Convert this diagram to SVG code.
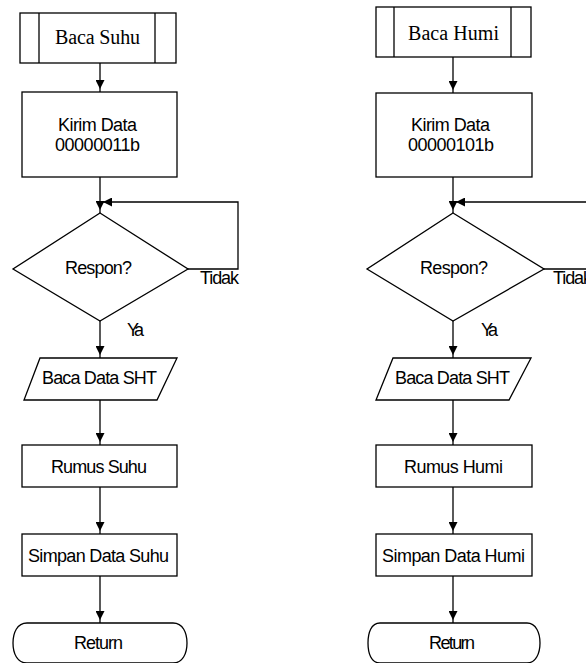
<svg xmlns="http://www.w3.org/2000/svg" width="586" height="663" viewBox="0 0 586 663">
<style>
.s{fill:#fff;stroke:#000;stroke-width:1.3}
.c{fill:none;stroke:#000;stroke-width:1.3}
.t{font-family:"Liberation Sans",Arial,sans-serif;font-size:18px;fill:#000}
.m{text-anchor:middle}
.r{font-family:"Liberation Serif","Times New Roman",serif;font-size:20px;fill:#000;text-anchor:middle}
</style>
<defs>
<marker id="ah" viewBox="0 0 12 9" markerWidth="12" markerHeight="9" refX="12" refY="4.5" orient="auto" markerUnits="userSpaceOnUse">
<path d="M0,0 L9,4.5 L0,9 Z" fill="#000"/>
</marker>
</defs>
<rect width="586" height="663" fill="#fff"/>
<g id="connectors">
<line class="c" x1="100" y1="63" x2="100" y2="92" marker-end="url(#ah)"/>
<line class="c" x1="100" y1="177" x2="100" y2="213" marker-end="url(#ah)"/>
<polyline class="c" points="188,269 238,269 238,202 100,202" marker-end="url(#ah)"/>
<line class="c" x1="100" y1="321" x2="100" y2="358" marker-end="url(#ah)"/>
<line class="c" x1="100" y1="400" x2="100" y2="445" marker-end="url(#ah)"/>
<line class="c" x1="100" y1="487" x2="100" y2="534" marker-end="url(#ah)"/>
<line class="c" x1="100" y1="576" x2="100" y2="623" marker-end="url(#ah)"/>
<line class="c" x1="453" y1="57" x2="453" y2="93" marker-end="url(#ah)"/>
<line class="c" x1="453" y1="177" x2="453" y2="213" marker-end="url(#ah)"/>
<polyline class="c" points="544,269 592,269"/>
<polyline class="c" points="592,202 453,202" marker-end="url(#ah)"/>
<line class="c" x1="453" y1="321" x2="453" y2="358" marker-end="url(#ah)"/>
<line class="c" x1="453" y1="400" x2="453" y2="445" marker-end="url(#ah)"/>
<line class="c" x1="453" y1="487" x2="453" y2="534" marker-end="url(#ah)"/>
<line class="c" x1="453" y1="576" x2="453" y2="623" marker-end="url(#ah)"/>
<text class="t" x="200" y="284" textLength="39">Tidak</text>
<text class="t" x="127" y="336" textLength="17">Ya</text>
<text class="t" x="553" y="284" textLength="39">Tidak</text>
<text class="t" x="481" y="336" textLength="17">Ya</text>
</g>
<g id="baca-suhu">
<rect class="s" x="20" y="13" width="156" height="50"/>
<line class="c" x1="39" y1="13" x2="39" y2="63"/>
<line class="c" x1="155" y1="13" x2="155" y2="63"/>
<text class="r" x="97.5" y="44" textLength="85">Baca Suhu</text>
</g>
<g id="kirim-suhu">
<rect class="s" x="22" y="92" width="155" height="85"/>
<text class="t m" x="97.5" y="131" textLength="79">Kirim Data</text>
<text class="t m" x="97.5" y="151" textLength="85">00000011b</text>
</g>
<g id="respon-suhu">
<polygon class="s" points="100,213 188,269 100,321 13,269"/>
<text class="t m" x="98.5" y="274" textLength="67">Respon?</text>
</g>
<g id="sht-suhu">
<polygon class="s" points="40,358 177,358 157,400 24,400"/>
<text class="t m" x="99.5" y="384" textLength="115">Baca Data SHT</text>
</g>
<g id="rumus-suhu">
<rect class="s" x="22" y="445" width="155" height="42"/>
<text class="t m" x="99" y="473" textLength="96">Rumus Suhu</text>
</g>
<g id="simpan-suhu">
<rect class="s" x="22" y="534" width="155" height="42"/>
<text class="t m" x="98.5" y="562" textLength="141">Simpan Data Suhu</text>
</g>
<g id="return-suhu">
<path class="s" d="M27,623 H173 C183,623 187,633 187,643 C187,653 183,663 173,663 H27 C17,663 13,653 13,643 C13,633 17,623 27,623 Z"/>
<text class="t m" x="98.5" y="649" textLength="49">Return</text>
</g>
<g id="baca-humi">
<rect class="s" x="376" y="7" width="155" height="50"/>
<line class="c" x1="394" y1="7" x2="394" y2="57"/>
<line class="c" x1="511" y1="7" x2="511" y2="57"/>
<text class="r" x="453.5" y="40" textLength="91">Baca Humi</text>
</g>
<g id="kirim-humi">
<rect class="s" x="376" y="93" width="156" height="84"/>
<text class="t m" x="450.5" y="131" textLength="79">Kirim Data</text>
<text class="t m" x="451" y="151" textLength="86">00000101b</text>
</g>
<g id="respon-humi">
<polygon class="s" points="453,213 544,269 453,321 367,269"/>
<text class="t m" x="454" y="274" textLength="68">Respon?</text>
</g>
<g id="sht-humi">
<polygon class="s" points="393,358 531,358 509,400 376,400"/>
<text class="t m" x="452.5" y="384" textLength="115">Baca Data SHT</text>
</g>
<g id="rumus-humi">
<rect class="s" x="376" y="445" width="156" height="42"/>
<text class="t m" x="453.5" y="473" textLength="99">Rumus Humi</text>
</g>
<g id="simpan-humi">
<rect class="s" x="376" y="534" width="156" height="42"/>
<text class="t m" x="453.5" y="562" textLength="143">Simpan Data Humi</text>
</g>
<g id="return-humi">
<path class="s" d="M380,623 H527 C536,623 540,633 540,643 C540,653 536,663 527,663 H380 C371,663 368,653 368,643 C368,633 371,623 380,623 Z"/>
<text class="t m" x="452" y="649" textLength="46">Return</text>
</g>
</svg>
